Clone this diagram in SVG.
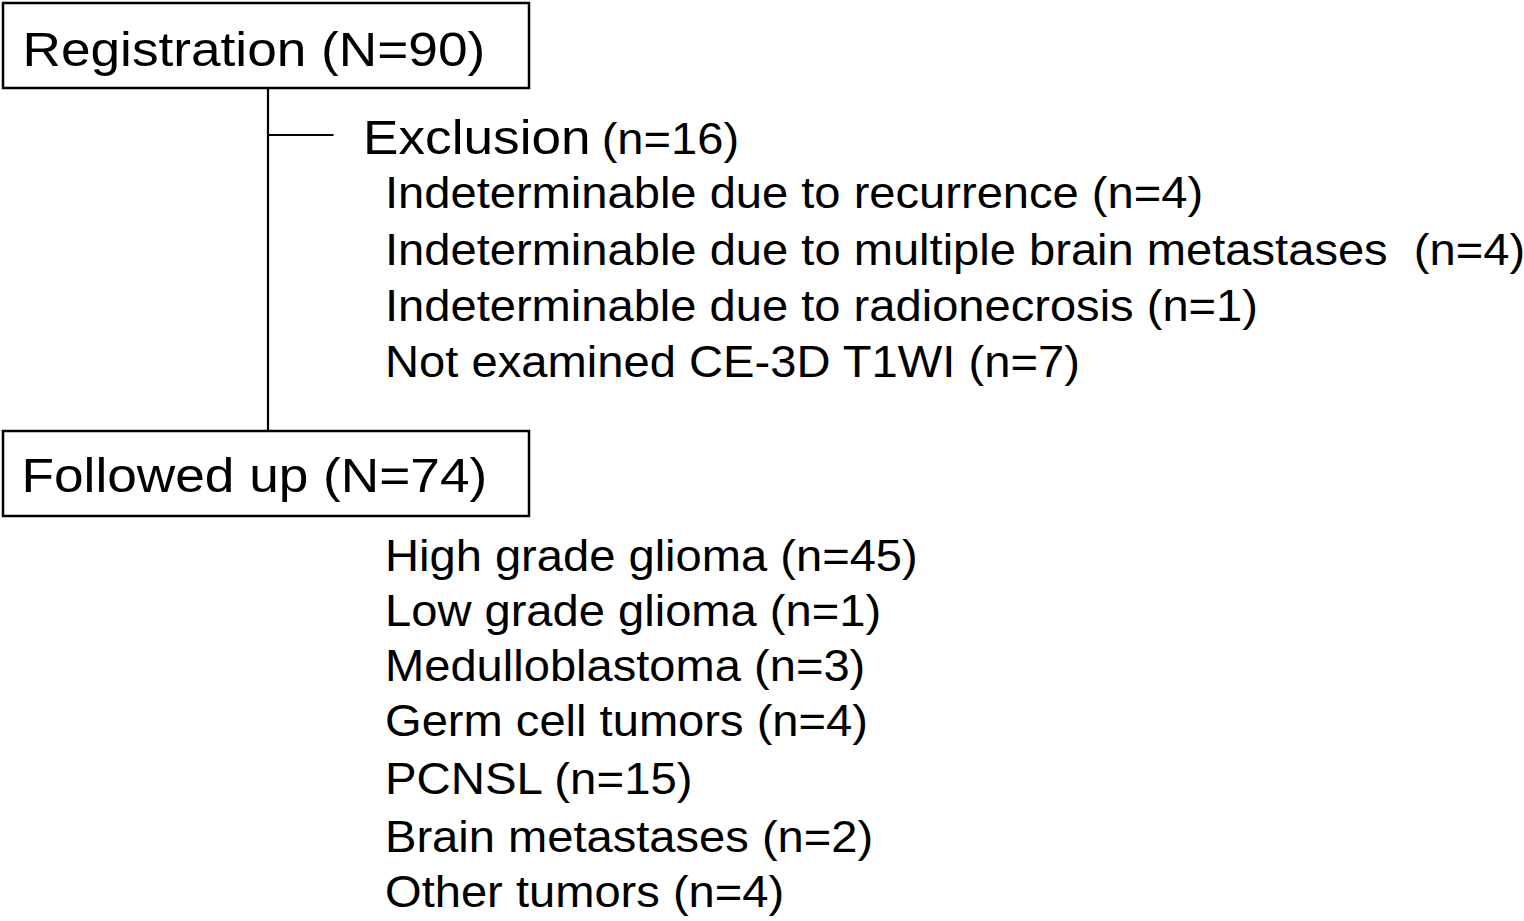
<svg xmlns="http://www.w3.org/2000/svg" width="1524" height="921" viewBox="0 0 1524 921">
<style>
  .box { fill: #ffffff; stroke: #000000; stroke-width: 2.5; }
  .conn { stroke: #000000; stroke-width: 2.2; fill: none; }
  .big { font-family: "Liberation Sans", Arial, sans-serif; font-size: 49px; fill: #000000; }
  .item { font-family: "Liberation Sans", Arial, sans-serif; font-size: 43.5px; fill: #000000; white-space: pre; }
</style>
<rect x="0" y="0" width="1524" height="921" fill="#ffffff"/>
<g id="connectors">
  <line class="conn" x1="268" y1="88" x2="268" y2="431"/>
  <line class="conn" x1="268" y1="135" x2="333.5" y2="135"/>
</g>
<g id="registration">
  <rect class="box" x="3" y="3" width="526" height="85"/>
  <text class="big" x="22.5" y="65.5" textLength="462.7" lengthAdjust="spacingAndGlyphs">Registration (N=90)</text>
</g>
<g id="exclusion">
  <text class="big" x="363" y="154" textLength="227.6" lengthAdjust="spacingAndGlyphs">Exclusion</text>
  <text class="item" x="601.7" y="154" textLength="137.4" lengthAdjust="spacingAndGlyphs">(n=16)</text>
  <text class="item" x="385" y="208" textLength="818.1" lengthAdjust="spacingAndGlyphs">Indeterminable due to recurrence (n=4)</text>
  <text class="item" x="385" y="264.5" textLength="1140.1" lengthAdjust="spacingAndGlyphs" xml:space="preserve">Indeterminable due to multiple brain metastases  (n=4)</text>
  <text class="item" x="385" y="321" textLength="873.0" lengthAdjust="spacingAndGlyphs">Indeterminable due to radionecrosis (n=1)</text>
  <text class="item" x="385" y="377" textLength="694.9" lengthAdjust="spacingAndGlyphs">Not examined CE-3D T1WI (n=7)</text>
</g>
<g id="followed-up">
  <rect class="box" x="3" y="431" width="526" height="85"/>
  <text class="big" x="21.5" y="491.7" textLength="465.7" lengthAdjust="spacingAndGlyphs">Followed up (N=74)</text>
</g>
<g id="diagnoses">
  <text class="item" x="385" y="570.7" textLength="532.7" lengthAdjust="spacingAndGlyphs">High grade glioma (n=45)</text>
  <text class="item" x="385" y="625.7" textLength="496.1" lengthAdjust="spacingAndGlyphs">Low grade glioma (n=1)</text>
  <text class="item" x="385" y="680.7" textLength="480.3" lengthAdjust="spacingAndGlyphs">Medulloblastoma (n=3)</text>
  <text class="item" x="385" y="736" textLength="482.9" lengthAdjust="spacingAndGlyphs">Germ cell tumors (n=4)</text>
  <text class="item" x="385" y="794" textLength="307.6" lengthAdjust="spacingAndGlyphs">PCNSL (n=15)</text>
  <text class="item" x="385" y="851.5" textLength="488.2" lengthAdjust="spacingAndGlyphs">Brain metastases (n=2)</text>
  <text class="item" x="385" y="906.5" textLength="399.2" lengthAdjust="spacingAndGlyphs">Other tumors (n=4)</text>
</g>
</svg>
